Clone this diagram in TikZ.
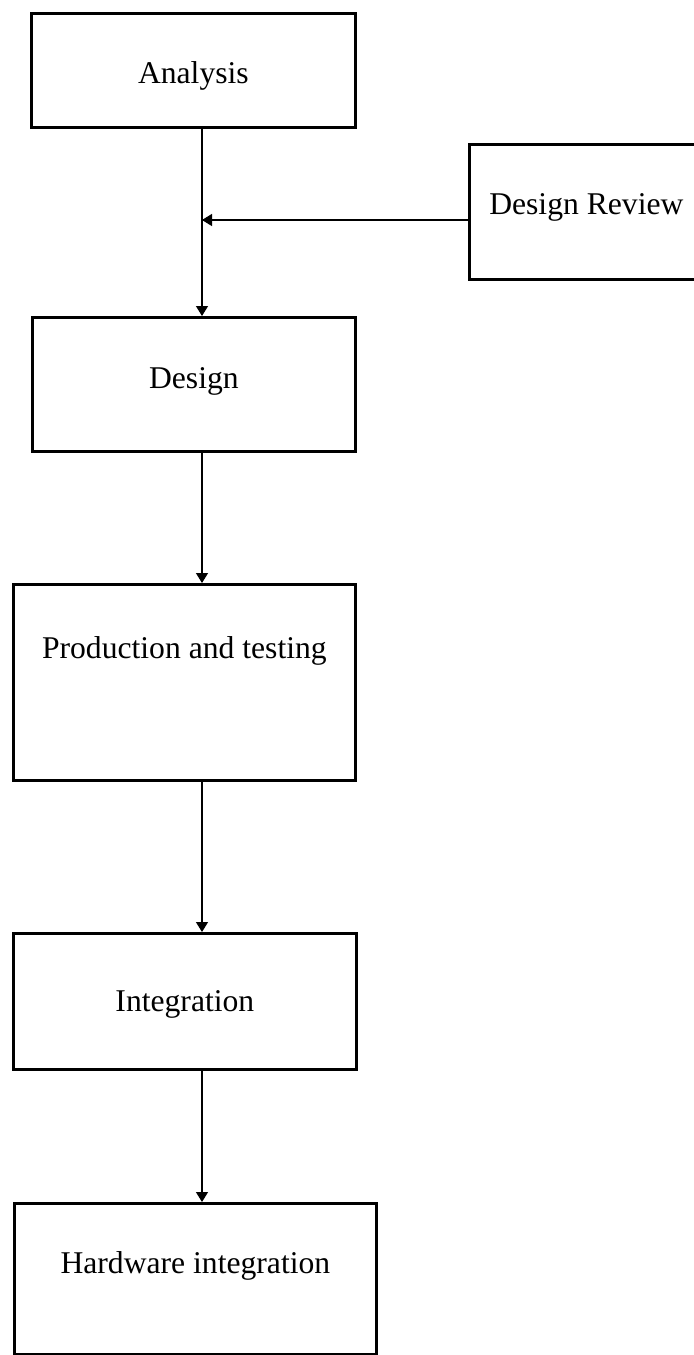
\documentclass[tikz,border=0pt]{standalone}
\usepackage{fontspec}
\setmainfont{Liberation Serif}
\usetikzlibrary{arrows.meta}
\begin{document}
\begin{tikzpicture}[
        x=0.025cm, y=-0.025cm,
        box/.style={rectangle, draw, line width=1.9pt, inner sep=0pt, anchor=north west, font=\fontsize{22.5}{27}\selectfont},
        flow/.style={line width=0.9pt, -{Triangle[width=0.3cm, length=0.25cm]}}
    ]
    \useasboundingbox (0,0) rectangle (694,1355);
    \node[box, minimum width=8.1cm, text height=1.75cm, text depth=1.1cm] (analysis) at (30,12) {Analysis};
    \node[box, minimum width=5.85cm, text height=1.75cm, text depth=1.625cm] (review) at (468,143) {Design Review};
    \node[box, minimum width=8.075cm, text height=1.775cm, text depth=1.575cm] (design) at (31,316) {Design};
    \node[box, minimum width=8.55cm, text height=1.85cm, text depth=3.05cm] (production) at (12,583) {Production and testing};
    \node[box, minimum width=8.575cm, text height=1.95cm, text depth=1.45cm] (integration) at (12,932) {Integration};
    \node[box, minimum width=9.05cm, text height=1.75cm, text depth=2.025cm] (hardware) at (13,1202) {Hardware integration};
    \coordinate (spine) at (202,0);
    \coordinate (merge) at (202,220);
    \draw[flow] (analysis.south -| spine) -- (design.north -| spine);
    \draw[flow] (review.west |- merge) -- (merge);
    \draw[flow] (design.south -| spine) -- (production.north -| spine);
    \draw[flow] (production.south -| spine) -- (integration.north -| spine);
    \draw[flow] (integration.south -| spine) -- (hardware.north -| spine);
    \end{tikzpicture}
\end{document}
